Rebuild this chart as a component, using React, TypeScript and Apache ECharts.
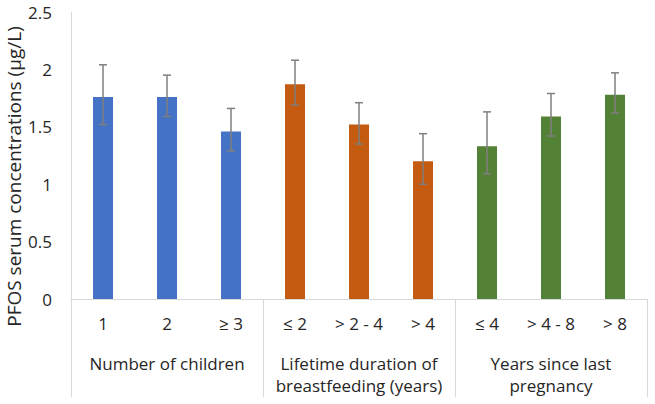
import React, { useEffect, useRef } from "react";
import * as echarts from "echarts";

const subCategories = ["1", "2", "≥ 3", "≤ 2", "> 2 - 4", "> 4", "≤ 4", "> 4 - 8", "> 8"];
const groups = ["Number of children", "Lifetime duration of\nbreastfeeding (years)", "Years since last\npregnancy"];
const means = [1.76, 1.76, 1.46, 1.87, 1.52, 1.2, 1.33, 1.59, 1.78];
const errLow = [1.52, 1.59, 1.29, 1.69, 1.35, 1.0, 1.09, 1.42, 1.62];
const errHigh = [2.04, 1.95, 1.66, 2.08, 1.71, 1.44, 1.63, 1.79, 1.97];
const barColors = ["#4472C4", "#4472C4", "#4472C4", "#C55A11", "#C55A11", "#C55A11", "#538135", "#538135", "#538135"];

const FONT = "'Open Sans', 'Liberation Sans', sans-serif";
const TEXT = "#262626";

export default function App() {
  const ref = useRef<HTMLDivElement>(null);
  useEffect(() => {
    if (!ref.current) return;
    const chart = echarts.init(ref.current, null, { renderer: "svg" });
    chart.setOption({
      animation: false,
      grid: { left: 71, right: 8, top: 12, bottom: 105, containLabel: false, outerBoundsMode: "none" },
      xAxis: [
        {
          type: "category",
          data: subCategories,
          position: "bottom",
          axisLine: { show: true, lineStyle: { color: "#D9D9D9", width: 1 } },
          axisTick: { show: false },
          axisLabel: { margin: 16, fontSize: 17, color: TEXT, fontFamily: FONT, interval: 0 },
        },
        {
          type: "category",
          data: groups,
          position: "bottom",
          axisLine: { show: true, lineStyle: { color: "#D9D9D9", width: 1 } },
          axisTick: { show: true, length: 98, lineStyle: { color: "#D9D9D9", width: 1 } },
          axisLabel: { margin: 53, fontSize: 17, color: TEXT, fontFamily: FONT, lineHeight: 22, interval: 0 },
        },
      ],
      yAxis: {
        type: "value",
        min: 0,
        max: 2.5,
        interval: 0.5,
        name: "PFOS serum concentrations (µg/L)",
        nameLocation: "middle",
        nameGap: 48,
        nameMoveOverlap: false,
        nameTextStyle: { fontSize: 19, color: TEXT, fontFamily: FONT, padding: [0, 42, 0, 0] },
        axisLine: { show: true, lineStyle: { color: "#D9D9D9", width: 1 } },
        axisTick: { show: false },
        splitLine: { show: false },
        axisLabel: { fontSize: 17, color: TEXT, fontFamily: FONT, margin: 19 },
      },
      series: [
        {
          type: "bar",
          xAxisIndex: 0,
          barWidth: 20,
          data: means.map((v, i) => ({ value: v, itemStyle: { color: barColors[i] } })),
        },
        {
          type: "custom",
          xAxisIndex: 0,
          z: 10,
          data: errLow.map((lo, i) => [i, lo, errHigh[i]]),
          renderItem: (params: any, api: any) => {
            const x = api.value(0);
            const lo = api.coord([x, api.value(1)]);
            const hi = api.coord([x, api.value(2)]);
            const hw = 4;
            const style = { stroke: "#7F7F7F", lineWidth: 1.5 };
            return {
              type: "group",
              children: [
                { type: "line", shape: { x1: hi[0], y1: hi[1], x2: lo[0], y2: lo[1] }, style },
                { type: "line", shape: { x1: hi[0] - hw, y1: hi[1], x2: hi[0] + hw, y2: hi[1] }, style },
                { type: "line", shape: { x1: lo[0] - hw, y1: lo[1], x2: lo[0] + hw, y2: lo[1] }, style },
              ],
            };
          },
        },
      ],
    });
    return () => chart.dispose();
  }, []);
  return <div ref={ref} style={{ width: 655, height: 404, position: "absolute", left: 0, top: 0 }} />;
}
